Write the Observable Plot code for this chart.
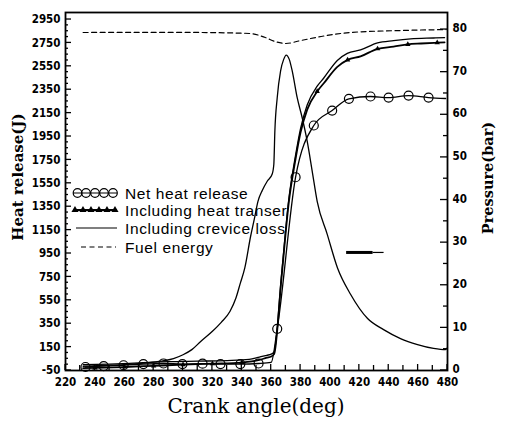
<!DOCTYPE html>
<html><head><meta charset="utf-8">
<script src="https://cdn.jsdelivr.net/npm/d3@7"></script>
<script src="https://cdn.jsdelivr.net/npm/@observablehq/plot@0.6"></script>
<style>body{margin:0;background:#fff}</style>
</head><body><div id="chart"></div>
<script>
// ---- data ----
const fuelDeg = [232, 260, 300, 330, 346, 356, 363, 370, 380, 394, 414, 448, 479];
const fuelJ   = [2839, 2840, 2840, 2836, 2830, 2796, 2760, 2745, 2770, 2805, 2839, 2856, 2864];

const presDeg = [232, 245, 260, 275, 285, 293.5, 300, 306, 312, 320, 326, 332, 336, 339, 342, 346, 348.5, 351, 354, 357.3, 360.7, 361.8, 362.5, 364.1, 366.4, 368.5, 370.2, 372.3, 374.3, 377.7, 381.1, 384.5, 387.9, 391.3, 398.1, 405.2, 414, 425.6, 436.5, 448, 459.6, 470.5, 478.7, 480];
const presBar = [1.0, 1.2, 1.4, 1.8, 2.2, 2.8, 3.7, 4.9, 6.8, 9.2, 11.3, 13.9, 17.0, 20.5, 24.0, 31.5, 35.5, 39.7, 42.3, 44.4, 46.1, 48.4, 56.2, 64.0, 70.3, 73.0, 74.0, 73.0, 70.3, 64.0, 59.3, 53.8, 46.8, 39.7, 32.0, 24.0, 17.9, 12.2, 9.6, 7.5, 6.1, 5.2, 4.9, 5.4];

const netDeg  = [233.6, 246, 259.5, 273, 286.7, 299.6, 313.3, 325.5, 339, 351.4, 360, 364.1, 376.6, 389, 401.5, 412.9, 427.6, 439.9, 453.5, 467.1, 478.7];
const netJ    = [-20, -12, -5, 5, 10, 5, 8, 5, 5, 10, 20, 306, 1602, 2044, 2172, 2272, 2292, 2283, 2300, 2283, 2275];
const netMark = [1, 1, 1, 1, 1, 1, 1, 1, 1, 1, 0, 1, 1, 1, 1, 1, 1, 1, 1, 1, 0];

const transDeg  = [232, 240, 260, 280, 300, 320, 340, 352, 357, 360, 362, 367, 372, 376.6, 380, 384.5, 391.3, 395.8, 405, 412, 420.8, 432.4, 443.3, 453, 462, 473, 478];
const transJ    = [-30, -28, -20, -10, 0, 8, 18, 40, 60, 70, 90, 740, 1390, 1760, 1985, 2180, 2335, 2405, 2545, 2605, 2635, 2700, 2718, 2738, 2745, 2752, 2755];
const transMark = [0, 1, 1, 1, 1, 1, 1, 0, 0, 0, 0, 0, 0, 0, 0, 0, 1, 0, 0, 1, 0, 1, 0, 1, 0, 1, 0];

const crevDeg = [232, 250, 270, 290, 310, 330, 345, 352, 357, 360, 362, 367, 372, 376.6, 380, 384.5, 391.3, 395.8, 405, 411.8, 420.8, 432.4, 443.3, 454.9, 470.5, 478];
const crevJ   = [0, 5, 15, 25, 30, 35, 45, 65, 80, 90, 110, 760, 1415, 1790, 2020, 2220, 2380, 2450, 2600, 2660, 2690, 2750, 2770, 2785, 2792, 2795];

const arrowDeg = [411, 429, 436.5];
const arrowBar = 27.7;

const xTickLabels = [220, 240, 260, 280, 300, 320, 340, 360, 380, 400, 420, 440, 460, 480];
const xMinor = d3.range(230, 480, 20);
const leftTickLabels = [-50, 150, 350, 550, 750, 950, 1150, 1350, 1550, 1750, 1950, 2150, 2350, 2550, 2750, 2950];
const leftMinor = d3.range(0, 3000, 50).filter(v => !leftTickLabels.includes(v));
const rightTickLabels = [0, 10, 20, 30, 40, 50, 60, 70, 80];
const rightMinor = [5, 15, 25, 35, 45, 55, 65, 75];

const xTitle = "Crank angle(deg)";
const yLeftTitle = "Heat release(J)";
const yRightTitle = "Pressure(bar)";
const legendLabels = ["Net heat release", "Including heat transer", "Including crevice loss", "Fuel energy"];
const legendKinds  = ["circle", "triangle", "solid", "dashed"];

// ---- scales ----
const jDomain = [-50, 3010];
const pMax = 84;
const toJ = p => jDomain[0] + p * (jDomain[1] - jDomain[0]) / pMax;

const zip = (xs, ys, m) => xs.map((x, i) => ({x, y: ys[i], m: m ? m[i] : 0}));
const fuel = zip(fuelDeg, fuelJ);
const pres = zip(presDeg, presBar.map(toJ));
const net = zip(netDeg, netJ, netMark);
const trans = zip(transDeg, transJ, transMark);
const crev = zip(crevDeg, crevJ);

const tickFont = "'Liberation Sans Narrow','DejaVu Sans Condensed','Liberation Sans',sans-serif";
const labelFont = "'DejaVu Serif','Liberation Serif',serif";
const legendFont = "'Liberation Sans',Arial,sans-serif";

// inward ticks drawn through the plot's scales
function ticksMark(index, scales, values, dim) {
  const g = d3.create("svg:g").attr("stroke", "#000").attr("stroke-width", 1.3);
  const x = scales.x, y = scales.y;
  const left = dim.marginLeft, right = dim.width - dim.marginRight, bottom = dim.height - dim.marginBottom;
  const add = (x1, y1, x2, y2) => g.append("line").attr("x1", x1).attr("y1", y1).attr("x2", x2).attr("y2", y2);
  xTickLabels.forEach(v => add(x(v), bottom, x(v), bottom - 6));
  xMinor.forEach(v => add(x(v), bottom, x(v), bottom - 5));
  leftTickLabels.forEach(v => add(left, y(v), left + 6, y(v)));
  leftMinor.forEach(v => add(left, y(v), left + 3, y(v)));
  rightTickLabels.forEach(v => add(right, y(toJ(v)), right - 7, y(toJ(v))));
  rightMinor.forEach(v => add(right, y(toJ(v)), right - 4, y(toJ(v))));
  return g.node();
}

// axis titles
function titlesMark(index, scales, values, dim) {
  const left = dim.marginLeft, right = dim.width - dim.marginRight, bottom = dim.height - dim.marginBottom;
  const cx = (left + right) / 2;
  const g = d3.create("svg:g").attr("fill", "#000").attr("font-family", labelFont).attr("text-anchor", "middle");
  g.append("text").attr("transform", `translate(${cx},${bottom + 43})`).attr("font-size", 20).text(xTitle);
  g.append("text").attr("transform", `translate(${left - 42},177) rotate(-90)`).attr("font-size", 15)
    .attr("font-weight", "bold").text(yLeftTitle);
  g.append("text").attr("transform", `translate(${right + 46},178) rotate(-90)`).attr("font-size", 14.5)
    .attr("font-weight", "bold").text(yRightTitle);
  return g.node();
}

// legend inside the frame
function legendMark(index, scales, values, dim) {
  const ox = dim.marginLeft, oy = dim.marginTop;
  const rows = [181, 198, 216, 235];
  const g = d3.create("svg:g");
  legendKinds.forEach((k, i) => {
    const yy = oy + rows[i];
    const line = g.append("line").attr("y1", yy).attr("y2", yy).attr("stroke", "#000");
    if (k === "circle") {
      line.attr("x1", ox + 8).attr("x2", ox + 52).attr("stroke-width", 1.2);
      [12.5, 21, 30, 39, 48].forEach(cx => g.append("circle").attr("cx", ox + cx).attr("cy", yy).attr("r", 4.3)
        .attr("fill", "none").attr("stroke", "#000").attr("stroke-width", 1.2));
    } else if (k === "triangle") {
      line.attr("x1", ox + 9).attr("x2", ox + 52).attr("stroke-width", 1.8);
      [10, 18, 26, 34, 42, 50].forEach(cx => g.append("path")
        .attr("d", d3.symbol(d3.symbolTriangle, 22)())
        .attr("transform", `translate(${ox + cx},${yy})`).attr("fill", "#000"));
    } else if (k === "solid") {
      line.attr("x1", ox + 11).attr("x2", ox + 52).attr("stroke-width", 1.2);
    } else {
      line.attr("x1", ox + 16).attr("x2", ox + 51).attr("stroke-width", 1.2).attr("stroke-dasharray", "5,3.5");
    }
    g.append("text").attr("x", ox + 60).attr("y", yy).attr("dy", "0.36em").attr("text-anchor", "start")
      .attr("font-family", legendFont).attr("font-size", 15.5).attr("letter-spacing", "0.6px").attr("fill", "#000")
      .text(legendLabels[i]);
  });
  return g.node();
}

const chart = Plot.plot({
  width: 507, height: 425,
  marginLeft: 65, marginRight: 60, marginTop: 12, marginBottom: 55,
  x: {domain: [220, 480], axis: null},
  y: {domain: jDomain, axis: null},
  style: {background: "#fff", color: "#000"},
  marks: [
    Plot.line(fuel, {x: "x", y: "y", stroke: "#000", strokeWidth: 1.2, strokeDasharray: "5,3.5", curve: "monotone-x"}),
    Plot.line(pres, {x: "x", y: "y", stroke: "#000", strokeWidth: 1.3, curve: "monotone-x"}),
    Plot.line(crev, {x: "x", y: "y", stroke: "#000", strokeWidth: 1.3, curve: "monotone-x"}),
    Plot.line(trans, {x: "x", y: "y", stroke: "#000", strokeWidth: 1.8, curve: "monotone-x"}),
    Plot.dot(trans.filter(d => d.m), {x: "x", y: "y", symbol: "triangle", r: 2, fill: "#000"}),
    Plot.line(net, {x: "x", y: "y", stroke: "#000", strokeWidth: 1.3, curve: "monotone-x"}),
    Plot.dot(net.filter(d => d.m), {x: "x", y: "y", r: 4.5, stroke: "#000", strokeWidth: 1.2, fill: "none"}),
    Plot.link([{a: arrowDeg[0], b: arrowDeg[1]}], {x1: "a", x2: "b", y1: () => toJ(arrowBar), y2: () => toJ(arrowBar), stroke: "#000", strokeWidth: 3}),
    Plot.link([{a: arrowDeg[1], b: arrowDeg[2]}], {x1: "a", x2: "b", y1: () => toJ(arrowBar), y2: () => toJ(arrowBar), stroke: "#000", strokeWidth: 1.2}),

    Plot.frame({stroke: "#000", strokeWidth: 1.8}),
    ticksMark,

    Plot.text(xTickLabels, {x: d => d, frameAnchor: "bottom", dy: 15, text: d => String(d), fontWeight: "bold", fontSize: 11.5, fontFamily: tickFont}),
    Plot.text(leftTickLabels, {y: d => d, frameAnchor: "left", dx: -5, textAnchor: "end", text: d => String(d), fontWeight: "bold", fontSize: 11.5, fontFamily: tickFont}),
    Plot.text(rightTickLabels, {y: d => toJ(d), frameAnchor: "right", dx: 5, dy: -1, textAnchor: "start", text: d => String(d), fontWeight: "bold", fontSize: 11.5, fontFamily: tickFont}),

    titlesMark,
    legendMark
  ]
});

document.getElementById("chart").appendChild(chart);
</script>
</body></html>
